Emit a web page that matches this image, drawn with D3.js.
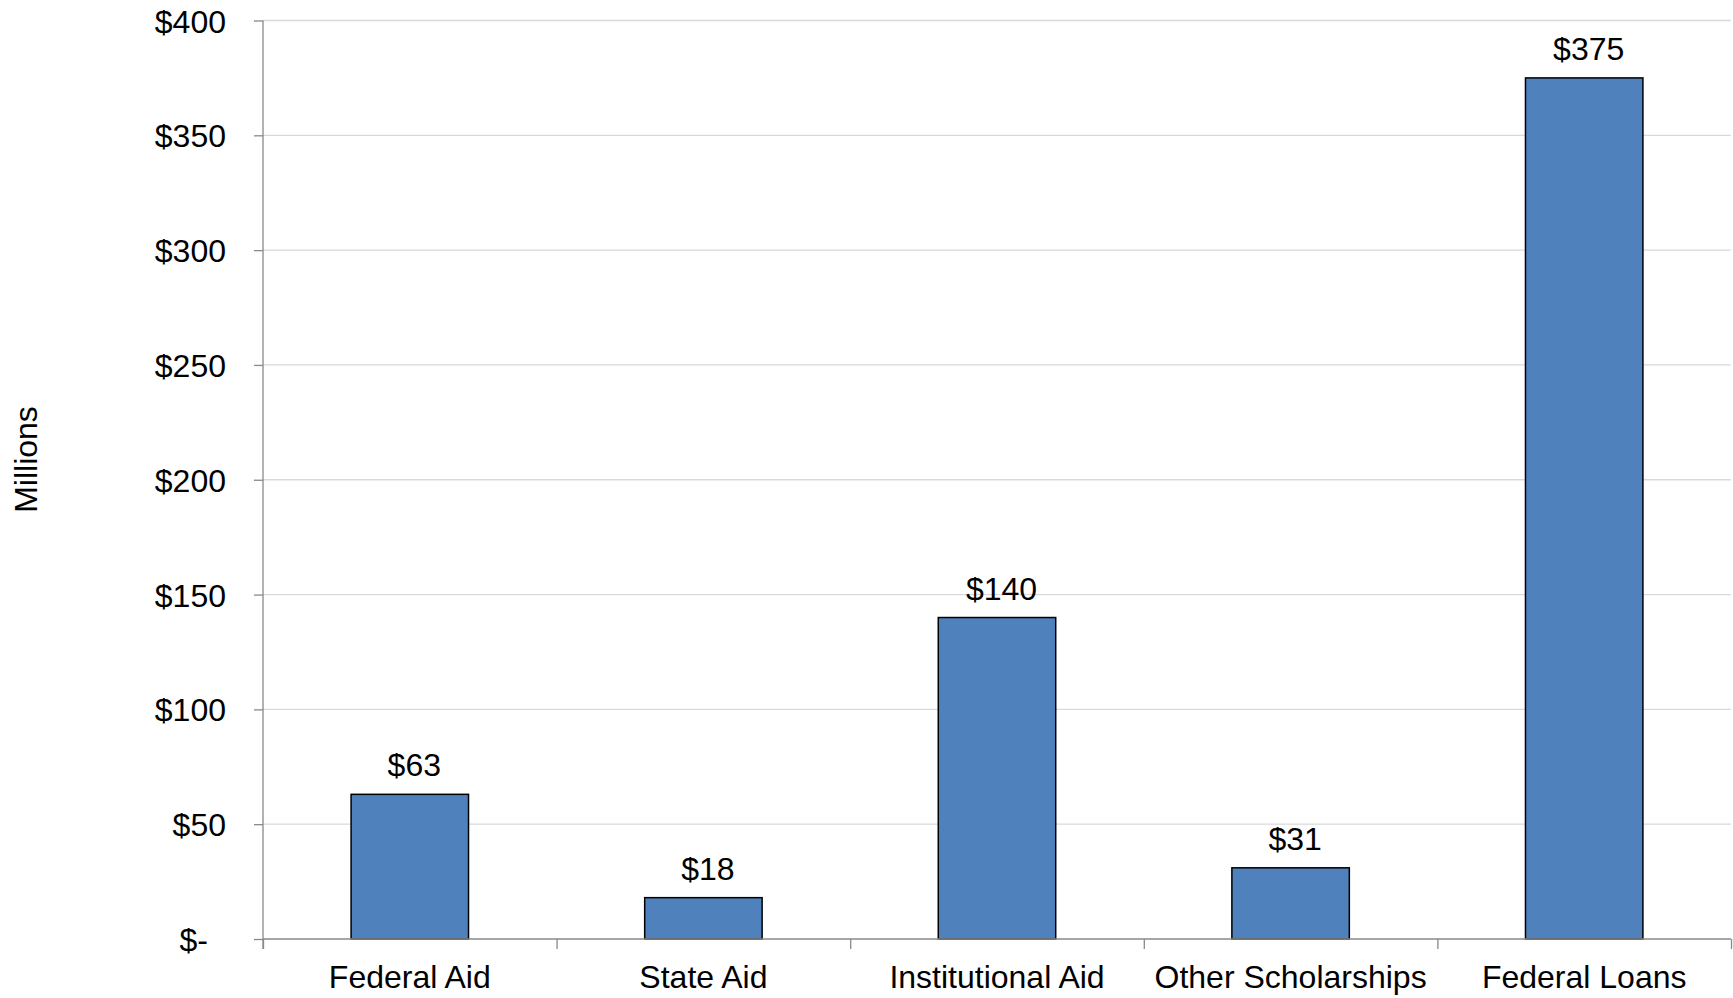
<!DOCTYPE html>
<html>
<head>
<meta charset="utf-8">
<script src="https://cdn.jsdelivr.net/npm/d3@7"></script>
<style>
  body { margin: 0; background: #fff; }
  text { font-family: "Liberation Sans", Arial, sans-serif; fill: #000; }
</style>
</head>
<body>
<div id="root"></div>
<script>
const categories = ['Federal Aid', 'State Aid', 'Institutional Aid', 'Other Scholarships', 'Federal Loans'];
const values = [63, 18, 140, 31, 375];
const yTicks = [0, 50, 100, 150, 200, 250, 300, 350, 400];

const margin = { left: 263, right: 2, top: 20.5, bottom: 59 };
const width = 1733 - margin.left - margin.right;
const height = 998 - margin.top - margin.bottom;
const fontSize = '32px';

const g = d3.select('#root').append('svg')
  .attr('width', 1733)
  .attr('height', 998)
  .append('g')
  .attr('transform', `translate(${margin.left}, ${margin.top})`);

const data = categories.map((c, i) => ({ cat: c, value: values[i] }));

// y scale
const y = d3.scaleLinear().domain([0, 400]).range([height, 0]);

// x scale: bars take 40% of each category slot
const x = d3.scaleBand()
  .domain(categories)
  .range([0, width])
  .paddingInner(0.6)
  .paddingOuter(0.3);

// edges between categories, for tick marks
const xEdge = d3.scaleLinear().domain([0, categories.length]).range([0, width]);

// gridlines
g.append('g').selectAll('line').data(yTicks.filter(t => t > 0))
  .enter().append('line')
    .attr('x1', 0)
    .attr('x2', width)
    .attr('y1', d => y(d))
    .attr('y2', d => y(d))
    .attr('stroke', '#d9d9d9')
    .attr('stroke-width', 1.3);

// y axis
const yAxis = d3.axisLeft(y)
  .tickValues(yTicks)
  .tickSize(9)
  .tickSizeOuter(0)
  .tickPadding(28)
  .tickFormat(v => v === 0 ? '$-' : '$' + v);

const ya = g.append('g').call(yAxis);
ya.select('.domain').remove();
ya.selectAll('line').attr('stroke', '#898989').attr('stroke-width', 1.3);
ya.selectAll('text')
  .attr('font-size', fontSize)
  .attr('font-family', '"Liberation Sans", Arial, sans-serif')
  .attr('fill', '#000')
  .attr('dy', '0.36em');
ya.selectAll('.tick').filter(d => d === 0).select('text').attr('x', -55);

// x axis tick marks at category edges
const xa = g.append('g')
  .attr('transform', `translate(0, ${height})`)
  .call(d3.axisBottom(xEdge).ticks(categories.length).tickSize(10).tickSizeOuter(0).tickFormat(''));
xa.select('.domain').remove();
xa.selectAll('line').attr('stroke', '#898989').attr('stroke-width', 1.3);

// category labels
const xl = g.append('g')
  .attr('transform', `translate(0, ${height})`)
  .call(d3.axisBottom(x).tickSize(0));
xl.select('.domain').remove();
xl.selectAll('text')
  .attr('font-size', fontSize)
  .attr('font-family', '"Liberation Sans", Arial, sans-serif')
  .attr('fill', '#000')
  .attr('y', 49)
  .attr('dy', 0);

// bars
g.append('g').selectAll('rect').data(data)
  .enter().append('rect')
    .attr('x', d => x(d.cat))
    .attr('y', d => y(d.value))
    .attr('width', x.bandwidth())
    .attr('height', d => height - y(d.value))
    .attr('fill', '#4f81bd')
    .attr('stroke', '#000')
    .attr('stroke-width', 1.5);

// axis lines
g.append('line')
  .attr('x1', 0).attr('x2', 0)
  .attr('y1', 0).attr('y2', height + 10)
  .attr('stroke', '#898989').attr('stroke-width', 1.3);
g.append('line')
  .attr('x1', 0).attr('x2', width)
  .attr('y1', height).attr('y2', height)
  .attr('stroke', '#898989').attr('stroke-width', 1.3);

// value labels (sit a little right of bar centre, as in the original)
g.append('g').selectAll('text').data(data)
  .enter().append('text')
    .attr('x', d => x(d.cat) + x.bandwidth() / 2 + 4.5)
    .attr('y', d => y(d.value) - 18)
    .attr('text-anchor', 'middle')
    .attr('font-size', fontSize)
    .text(d => '$' + d.value);

// y axis label
g.append('text')
  .attr('transform', 'rotate(-90)')
  .attr('x', -(459.5 - margin.top))
  .attr('y', 37 - margin.left)
  .attr('text-anchor', 'middle')
  .attr('font-size', fontSize)
  .text('Millions');
</script>
</body>
</html>
